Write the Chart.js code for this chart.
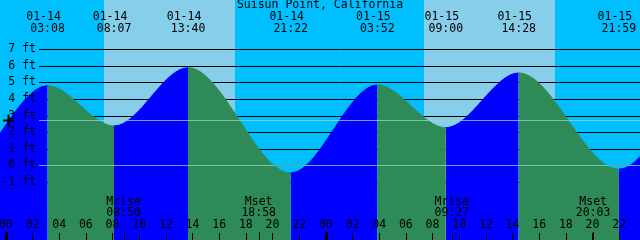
<!DOCTYPE html>
<html>
<head>
<meta charset="utf-8">
<script src="https://cdn.jsdelivr.net/npm/chart.js@4/dist/chart.umd.min.js"></script>
<style>
	html, body { margin: 0; padding: 0; background: #00bfff; }
	#tide { display: block; }
</style>
</head>
<body>
<canvas id="tide" width="640" height="240"></canvas>
<script>
const title = 'Suisun Point, California';

// tide extremes (first and last are off the picture, only shape the curve)
const tideDates = ['01-13', '01-13', '01-14', '01-14', '01-14', '01-14', '01-15', '01-15', '01-15', '01-15', '01-16', '01-16'];
const tideTimes = ['14:10', '20:24', '03:08', '08:07', '13:40', '21:22', '03:52', '09:00', '14:28', '21:59', '04:30', '10:00'];
const tideFeet = [5.7, -0.5, 4.8, 2.37, 5.89, -0.46, 4.85, 2.27, 5.57, -0.24, 4.9, 2.2];

const sunDates = ['01-14', '01-15'];
const sunrise = ['07:22', '07:22'];
const sunset = ['17:11', '17:12'];

const moonKinds = ['Mrise', 'Mset', 'Mrise', 'Mset'];
const moonDates = ['01-14', '01-14', '01-15', '01-15'];
const moonTimes = ['08:50', '18:58', '09:27', '20:03'];

const footTicks = [-1, 0, 1, 2, 3, 4, 5, 6, 7];
const hourTicks = [0, 2, 4, 6, 8, 10, 12, 14, 16, 18, 20, 22, 24, 26, 28, 30, 32, 34, 36, 38, 40, 42, 44, 46, 48];
const meanLevel = 2.72;

const NIGHT = '#00bfff';
const DAY = '#87ceeb';
const FLOOD = '#0000ff';
const EBB = '#2e8b57';
const MARK = 'rgba(150, 215, 195, 0.75)';
const FONT = '11.5px "DejaVu Sans Mono", "Liberation Mono", monospace';

// hours since 01-14 00:00
function hoursOf(date, time) {
	const day = parseInt(date.split('-')[1]) - 14;
	const [hh, mm] = time.split(':').map(Number);
	return day * 24 + hh + mm / 60;
}

const tidePoints = tideDates.map((d, i) => ({x: hoursOf(d, tideTimes[i]), y: tideFeet[i]}));

function waterColor(context) {
	return context.p1.parsed.y >= context.p0.parsed.y ? FLOOD : EBB;
}

const decor = {
	id: 'decor',
	beforeDraw(chart) {
		const {ctx, width, height} = chart;
		const {x, y} = chart.scales;
		ctx.save();
		ctx.fillStyle = NIGHT;
		ctx.fillRect(0, 0, width, height);
		ctx.fillStyle = DAY;
		sunDates.forEach((d, i) => {
			const x0 = Math.round(x.getPixelForValue(hoursOf(d, sunrise[i])));
			const x1 = Math.round(x.getPixelForValue(hoursOf(d, sunset[i])));
			ctx.fillRect(x0, 0, x1 - x0, height);
		});
		// foot lines sit under the water
		ctx.strokeStyle = '#000';
		ctx.lineWidth = 1;
		footTicks.forEach(f => {
			const py = Math.round(y.getPixelForValue(f)) + 0.5;
			ctx.beginPath();
			ctx.moveTo(39, py);
			ctx.lineTo(width, py);
			ctx.stroke();
		});
		ctx.restore();
	},
	afterDatasetsDraw(chart) {
		const {ctx, width, height} = chart;
		const {x, y} = chart.scales;
		ctx.save();
		ctx.strokeStyle = MARK;
		ctx.lineWidth = 1;
		[0, meanLevel].forEach(f => {
			const py = Math.round(y.getPixelForValue(f)) + 0.5;
			ctx.beginPath();
			ctx.moveTo(39, py);
			ctx.lineTo(width, py);
			ctx.stroke();
		});

		ctx.fillStyle = '#000';
		ctx.font = FONT;
		ctx.textBaseline = 'middle';

		// foot labels
		ctx.textAlign = 'right';
		footTicks.forEach(f => {
			ctx.fillText(f + ' ft', 36, y.getPixelForValue(f));
		});
		// mean level mark
		const my = Math.round(y.getPixelForValue(meanLevel)) + 0.5;
		ctx.strokeStyle = '#000';
		ctx.lineWidth = 2;
		ctx.beginPath();
		ctx.moveTo(3, my);
		ctx.lineTo(14, my);
		ctx.moveTo(8.5, my - 6);
		ctx.lineTo(8.5, my + 6);
		ctx.stroke();

		ctx.textAlign = 'center';
		ctx.fillText(title, 320, 5);

		// tide labels
		tidePoints.forEach((p, i) => {
			const px = x.getPixelForValue(p.x);
			if (px < 0 || px > width) return;
			ctx.fillText(tideDates[i], px - 4, 17.5);
			ctx.fillText(tideTimes[i], px, 29.5);
		});

		// moon labels and ticks
		ctx.lineWidth = 1;
		moonKinds.forEach((k, i) => {
			const px = x.getPixelForValue(hoursOf(moonDates[i], moonTimes[i]));
			ctx.fillText(k, px, 202.5);
			ctx.fillText(moonTimes[i], px, 213);
			const tx = Math.round(px) + 0.5;
			ctx.beginPath();
			ctx.moveTo(tx, 232);
			ctx.lineTo(tx, height);
			ctx.stroke();
		});

		// hour labels and ticks
		hourTicks.forEach(h => {
			const px = x.getPixelForValue(h);
			ctx.fillText(String(h % 24).padStart(2, '0'), px, 225.5);
			if (h % 24 === 0) {
				ctx.fillRect(Math.round(px) - 1, 232, 3, height - 232);
			} else {
				ctx.fillRect(Math.round(px), 233, 1, height - 233);
			}
		});
		ctx.restore();
	}
};

const chart = new Chart(document.getElementById('tide').getContext('2d'), {
	type: 'line',
	data: {
		datasets: [{
			data: tidePoints,
			cubicInterpolationMode: 'monotone',
			fill: 'start',
			pointRadius: 0,
			borderWidth: 1,
			segment: {
				backgroundColor: waterColor,
				borderColor: waterColor
			}
		}]
	},
	options: {
		responsive: false,
		animation: false,
		events: [],
		layout: {padding: 0},
		elements: {line: {capBezierPoints: false}},
		scales: {
			x: {type: 'linear', display: false, min: -0.435, max: 47.565},
			y: {type: 'linear', display: false, min: -4.508, max: 9.975}
		},
		plugins: {
			legend: {display: false},
			tooltip: {enabled: false}
		}
	},
	plugins: [decor]
});
</script>
</body>
</html>
